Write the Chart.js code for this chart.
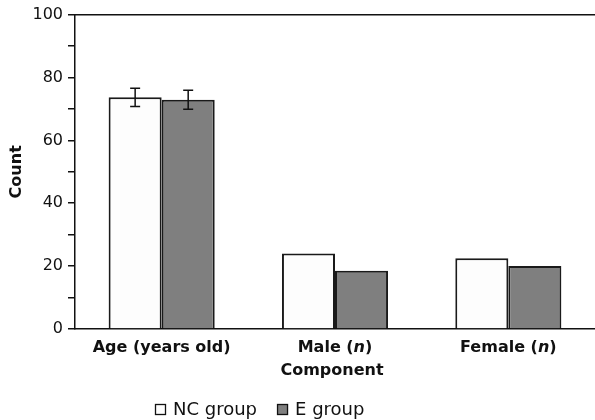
<!DOCTYPE html>
<html>
<head>
<meta charset="utf-8">
<script src="https://cdn.jsdelivr.net/npm/chart.js@4/dist/chart.umd.min.js"></script>
<style>
  html, body { margin: 0; padding: 0; background: #ffffff; }
  #wrap { width: 595px; height: 420px; position: relative; }
</style>
</head>
<body>
<div id="wrap"><canvas id="chart" width="595" height="420"></canvas></div>
<script>
// Categories and group values
const categories = ['Age (years old)', 'Male (n)', 'Female (n)'];
const seriesNames = ['NC group', 'E group'];
const ncValues = [73.7, 24, 22.5];
const eValues = [72.9, 18.5, 20];
// Error bar half-widths (only the age category has them)
const ncErrors = [2.9, null, null];
const eErrors = [3.0, null, null];
const yTicks = [0, 20, 40, 60, 80, 100];
const xTitle = 'Component';
const yTitle = 'Count';

const FONT = "'DejaVu Sans', 'Open Sans', sans-serif";

// Draws a label where a single-letter variable in parentheses is set in italics
function drawRichLabel(ctx, text, cx, y, size) {
  const parts = [];
  const re = /\(([a-z])\)/g;
  let last = 0, m;
  while ((m = re.exec(text)) !== null) {
    parts.push({ t: text.slice(last, m.index) + '(', it: false });
    parts.push({ t: m[1], it: true });
    parts.push({ t: ')', it: false });
    last = m.index + m[0].length;
  }
  if (last < text.length) parts.push({ t: text.slice(last), it: false });
  const fontOf = p => (p.it ? 'italic bold ' : 'bold ') + size + 'px ' + FONT;
  let total = 0;
  parts.forEach(p => { ctx.font = fontOf(p); p.w = ctx.measureText(p.t).width; total += p.w; });
  let x = cx - total / 2;
  ctx.textAlign = 'left';
  ctx.textBaseline = 'alphabetic';
  parts.forEach(p => { ctx.font = fontOf(p); ctx.fillText(p.t, x, y); x += p.w; });
}

const decorations = {
  id: 'decorations',
  afterDatasetsDraw(chart) {
    const ctx = chart.ctx;
    const y = chart.scales.y;
    // error bars
    ctx.save();
    ctx.strokeStyle = '#111';
    ctx.lineWidth = 1.5;
    chart.data.datasets.forEach((ds, di) => {
      const meta = chart.getDatasetMeta(di);
      ds.errors.forEach((err, i) => {
        if (err == null) return;
        const bar = meta.data[i];
        const v = ds.data[i];
        const yHi = y.getPixelForValue(v + err);
        const yLo = y.getPixelForValue(v - err);
        const x = bar.x, cap = 5;
        ctx.beginPath();
        ctx.moveTo(x, yHi); ctx.lineTo(x, yLo);
        ctx.moveTo(x - cap, yHi); ctx.lineTo(x + cap, yHi);
        ctx.moveTo(x - cap, yLo); ctx.lineTo(x + cap, yLo);
        ctx.stroke();
      });
    });
    ctx.restore();
  },
  afterDraw(chart) {
    const ctx = chart.ctx;
    const xs = chart.scales.x;
    const area = chart.chartArea;
    ctx.save();
    ctx.fillStyle = '#111';
    // category labels
    chart.data.labels.forEach((lab, i) => {
      drawRichLabel(ctx, lab, xs.getPixelForValue(i), area.bottom + 23, 16);
    });
    // axis title
    ctx.font = 'bold 16px ' + FONT;
    ctx.textAlign = 'center';
    ctx.textBaseline = 'alphabetic';
    ctx.fillText(xTitle, (area.left + area.right) / 2 - 3, area.bottom + 46);
    // legend
    const box = 11, gap = 7, itemGap = 20;
    ctx.font = '18px ' + FONT;
    let x = 155;
    const base = area.bottom + 86;
    chart.data.datasets.forEach(ds => {
      ctx.fillStyle = ds.backgroundColor;
      ctx.fillRect(x, base - box, box, box);
      ctx.strokeStyle = '#111';
      ctx.lineWidth = 1.3;
      ctx.strokeRect(x + 0.5, base - box + 0.5, box - 1, box - 1);
      ctx.fillStyle = '#111';
      ctx.textAlign = 'left';
      ctx.fillText(ds.label, x + box + gap, base);
      x += box + gap + ctx.measureText(ds.label).width + itemGap;
    });
    ctx.restore();
  }
};

new Chart(document.getElementById('chart'), {
  type: 'bar',
  data: {
    labels: categories,
    datasets: [
      {
        label: seriesNames[0],
        data: ncValues,
        errors: ncErrors,
        backgroundColor: '#fdfdfd',
        borderColor: '#1a1a1a',
        borderWidth: 2,
        categoryPercentage: 0.612,
        barPercentage: 1.0
      },
      {
        label: seriesNames[1],
        data: eValues,
        errors: eErrors,
        backgroundColor: '#7f7f7f',
        borderColor: '#1a1a1a',
        borderWidth: 2,
        categoryPercentage: 0.612,
        barPercentage: 1.0
      }
    ]
  },
  options: {
    responsive: false,
    animation: false,
    layout: { padding: { top: 14, right: 0, left: 0, bottom: 0 } },
    plugins: {
      legend: { display: false },
      tooltip: { enabled: false }
    },
    scales: {
      x: {
        position: 'bottom',
        ticks: { display: false },
        grid: { display: true, drawOnChartArea: false, drawTicks: false },
        border: { display: true, color: '#111', width: 1.5 },
        afterFit(scale) { scale.height = 91; }
      },
      xTop: {
        type: 'category',
        position: 'top',
        ticks: { display: false },
        grid: { display: true, drawOnChartArea: false, drawTicks: false },
        border: { display: true, color: '#111', width: 1.5 },
        afterFit(scale) { scale.height = 0; }
      },
      y: {
        min: 0,
        max: 100,
        ticks: {
          stepSize: 10,
          padding: 5,
          color: '#111',
          font: { family: FONT, size: 16 },
          callback: v => (yTicks.includes(v) ? String(v) : '')
        },
        grid: { display: true, drawOnChartArea: false, drawTicks: true, tickLength: 7, color: '#111', lineWidth: 1.5 },
        border: { display: true, color: '#111', width: 1.5 },
        title: {
          display: true,
          text: yTitle,
          color: '#111',
          font: { family: FONT, size: 16, weight: 'bold' },
          padding: { top: 7, bottom: 0 }
        },
        afterFit(scale) { scale.width = 75; }
      }
    }
  },
  plugins: [decorations]
});
</script>
</body>
</html>
